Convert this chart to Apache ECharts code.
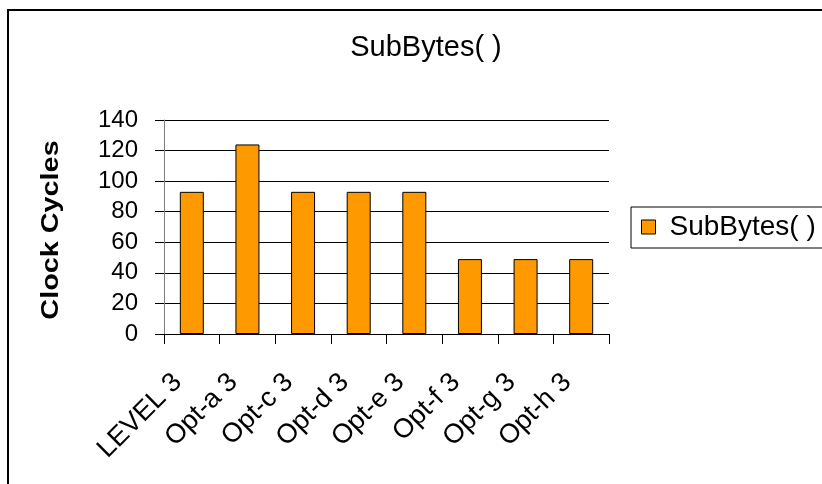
<!DOCTYPE html>
<html>
<head>
<meta charset="utf-8">
<script src="https://cdn.jsdelivr.net/npm/echarts@6/dist/echarts.min.js"></script>
<style>
  html, body { margin: 0; padding: 0; background: #fff; }
  #chart { width: 822px; height: 484px; }
</style>
</head>
<body>
<div id="chart"></div>
<script>
    var categories = ["LEVEL 3", "Opt-a 3", "Opt-c 3", "Opt-d 3", "Opt-e 3", "Opt-f 3", "Opt-g 3", "Opt-h 3"];
    var subBytes = [93, 124, 93, 93, 93, 49, 49, 49];
    var seriesName = "SubBytes( )";
    var titleText = "SubBytes( )";
    var yName = "Clock Cycles";

    var font = "Liberation Sans, Arial, sans-serif";

    var m_chart = echarts.init(document.getElementById("chart"));

    var option = {
        animation: false,
        textStyle: { fontFamily: font },
        title: {
            text: titleText,
            left: 421,
            top: 28,
            textAlign: 'center',
            textStyle: { fontSize: 29, fontWeight: 'normal', color: '#000', fontFamily: font }
        },
        legend: {
            left: 631,
            top: 207,
            orient: 'vertical',
            icon: 'rect',
            itemWidth: 14,
            itemHeight: 14,
            padding: [6, 30, 7, 10],
            borderColor: '#000',
            borderWidth: 1,
            itemStyle: { borderColor: '#000', borderWidth: 1 },
            textStyle: { fontSize: 28, color: '#000', fontFamily: font, padding: [0, 0, 0, 9] },
            data: [seriesName]
        },
        grid: {
            left: 164,
            right: 213,
            top: 120,
            bottom: 150,
            containLabel: false
        },
        xAxis: {
            type: 'category',
            data: categories,
            axisLine: { lineStyle: { color: '#000', width: 1 } },
            axisTick: { show: true, length: 10, lineStyle: { color: '#000' } },
            axisLabel: {
                rotate: 45,
                fontSize: 27,
                color: '#000',
                margin: 30,
                padding: [0, 20, 0, 0],
                interval: 0,
                fontFamily: font
            }
        },
        yAxis: {
            type: 'value',
            min: 0,
            max: 140,
            interval: 20,
            axisLine: { show: true, lineStyle: { color: '#808080', width: 1 } },
            axisTick: { show: true, length: 9, lineStyle: { color: '#000' } },
            axisLabel: { fontSize: 24, color: '#000', margin: 26, fontFamily: font },
            splitLine: { lineStyle: { color: '#000', width: 1 } }
        },
        graphic: [
            {
                type: 'rect',
                shape: { x: 8, y: 10, width: 840, height: 500 },
                style: { fill: 'none', stroke: '#000', lineWidth: 2 },
                silent: true
            },
            {
                type: 'text',
                x: 51,
                y: 230,
                rotation: Math.PI / 2,
                scaleX: 1.2,
                style: {
                    text: yName,
                    fontSize: 24,
                    fontWeight: 'bold',
                    fontFamily: font,
                    fill: '#000',
                    align: 'center',
                    verticalAlign: 'middle'
                }
            }
        ],
        series: [
            {
                name: seriesName,
                type: 'bar',
                data: subBytes,
                barWidth: 24,
                itemStyle: { color: '#FF9900', borderColor: '#000', borderWidth: 1 }
            }
        ]
    };

    m_chart.setOption(option);
</script>
</body>
</html>
